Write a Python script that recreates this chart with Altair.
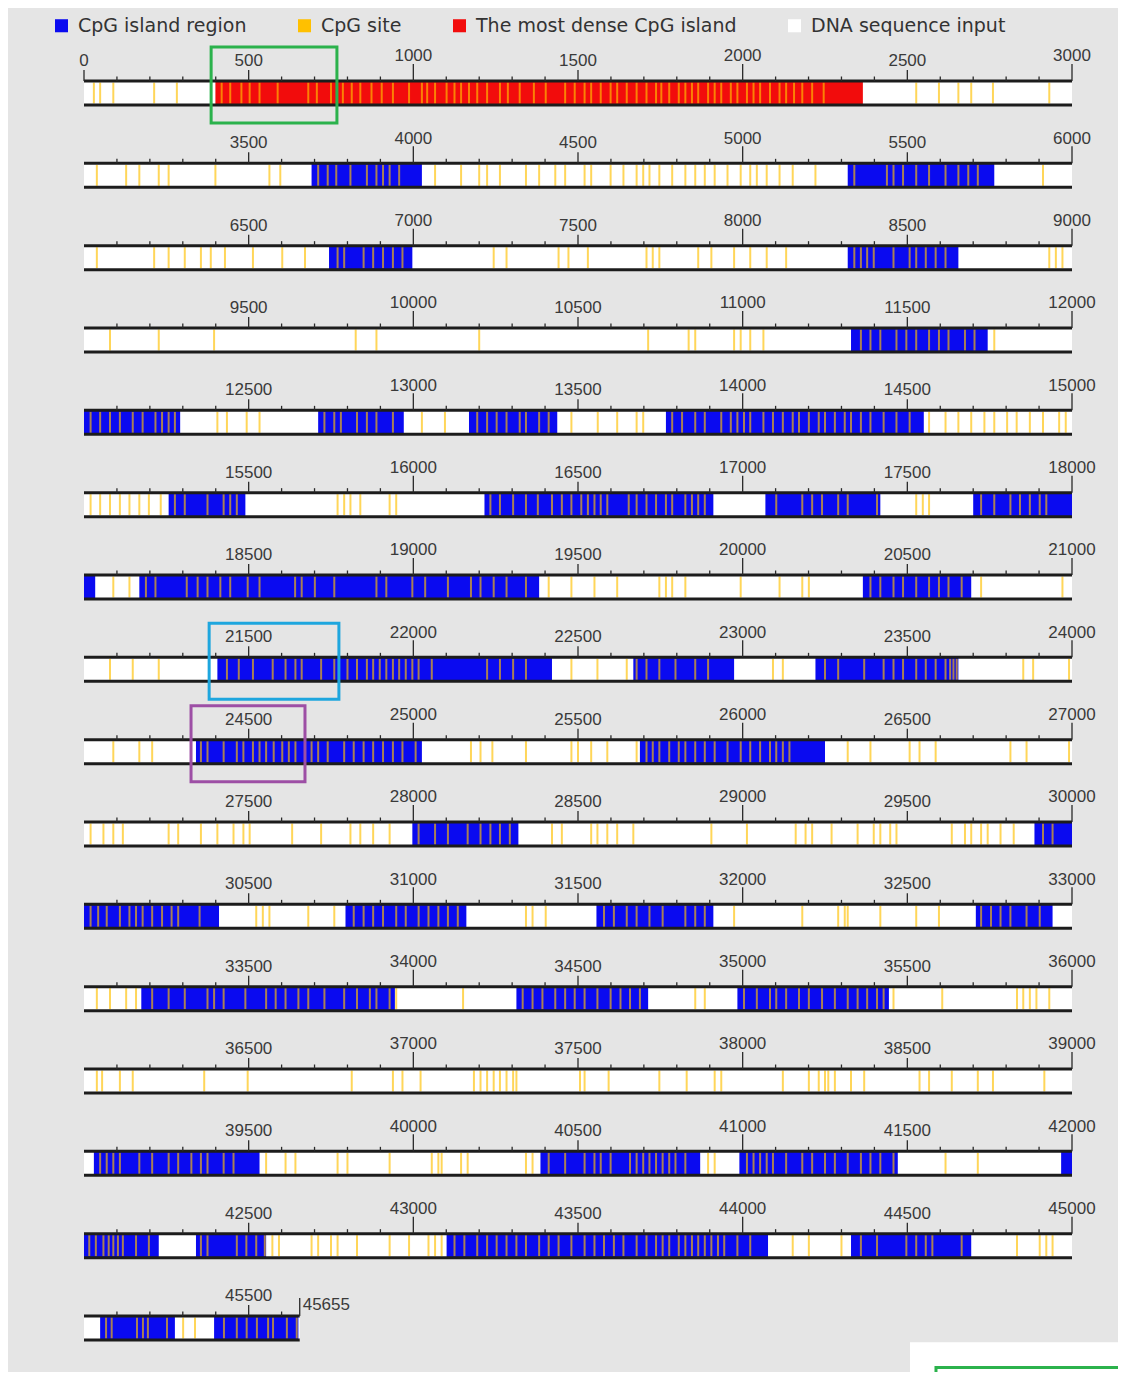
import altair as alt
import pandas as pd

TOTAL_BP = 45655
ROW_BP = 3000
N_ROWS = 16

LEGEND_LABELS = ["CpG island region", "CpG site", "The most dense CpG island", "DNA sequence input"]
LEGEND_COLORS = ["#0a0af0", "#ffc000", "#f20c0c", "#ffffff"]

DENSE_START = [399]
DENSE_END = [2365]

ISLAND_START = [3691, 5319, 6744, 8319, 11329, 12000, 12711, 13169, 13767, 15257, 16216, 17069,
                17700, 18168, 20365, 21405, 22668, 23221, 24340, 25688, 27997, 29886, 30794,
                31556, 32708, 33174, 34313, 34984, 39030, 40386, 40990, 41967, 42340, 43101,
                44329, 45049, 45395]
ISLAND_END = [4026, 5764, 6997, 8655, 11744, 12292, 12971, 13437, 14550, 15490, 16911, 17418,
              18034, 19382, 20694, 22421, 22974, 23655, 25026, 26250, 28319, 30410, 31161,
              31911, 32941, 33944, 34713, 35444, 39533, 40871, 41471, 42227, 42553, 44077,
              44694, 45276, 45651]

# CpG sites, offset (bp) inside each 3000 bp row
SITES_R00 = [30, 49, 89, 213, 282, 418, 444, 478, 503, 533, 588, 681, 707, 750, 786, 813, 839, 873,
             904, 938, 987, 1026, 1042, 1066, 1101, 1125, 1145, 1169, 1194, 1224, 1263, 1287, 1323,
             1366, 1402, 1461, 1490, 1520, 1540, 1569, 1599, 1619, 1648, 1678, 1708, 1737, 1753,
             1777, 1806, 1826, 1846, 1865, 1895, 1915, 1935, 1964, 1984, 2013, 2033, 2053, 2083,
             2112, 2132, 2156, 2181, 2211, 2246, 2527, 2596, 2655, 2694, 2760, 2931]
SITES_R01 = [39, 128, 168, 227, 257, 399, 563, 596, 711, 740, 766, 809, 859, 888, 908, 928, 957,
             1066, 1145, 1200, 1224, 1263, 1342, 1382, 1431, 1461, 1520, 1540, 1599, 1638, 1678,
             1698, 1717, 1747, 1786, 1826, 1856, 1885, 1915, 1954, 1994, 2023, 2043, 2073, 2112,
             2152, 2221, 2339, 2438, 2458, 2487, 2527, 2566, 2616, 2655, 2685, 2714, 2912]
SITES_R02 = [39, 213, 257, 306, 355, 385, 428, 513, 602, 671, 770, 790, 849, 878, 908, 938, 967,
             1244, 1283, 1441, 1471, 1530, 1708, 1727, 1747, 1865, 1905, 1974, 2023, 2073, 2132,
             2339, 2359, 2378, 2398, 2458, 2507, 2527, 2556, 2586, 2616, 2931, 2951, 2971]
SITES_R03 = [79, 227, 395, 825, 888, 1200, 1713, 1836, 1856, 1974, 1994, 2023, 2063, 2359, 2388,
             2418, 2467, 2497, 2527, 2566, 2596, 2625, 2675, 2704, 2764]
SITES_R04 = [20, 49, 79, 109, 148, 178, 217, 237, 257, 276, 405, 434, 494, 533, 730, 760, 780, 829,
             859, 888, 938, 1026, 1096, 1194, 1224, 1253, 1283, 1323, 1342, 1382, 1411, 1480, 1560,
             1619, 1678, 1698, 1786, 1816, 1856, 1885, 1935, 1964, 1984, 2004, 2023, 2063, 2092,
             2122, 2152, 2171, 2201, 2231, 2250, 2280, 2310, 2329, 2359, 2388, 2428, 2467, 2507,
             2566, 2616, 2655, 2694, 2734, 2764, 2803, 2832, 2872, 2912, 2961, 2981]
SITES_R05 = [20, 49, 79, 109, 138, 168, 197, 233, 276, 306, 375, 424, 444, 464, 770, 790, 809, 839,
             928, 948, 1234, 1263, 1303, 1342, 1378, 1421, 1451, 1480, 1510, 1530, 1550, 1569, 1589,
             1654, 1678, 1708, 1737, 1767, 1786, 1826, 1846, 1865, 1885, 2102, 2181, 2211, 2241,
             2290, 2319, 2408, 2527, 2547, 2566, 2724, 2764, 2813, 2842, 2872, 2902, 2922]
SITES_R06 = [89, 138, 188, 217, 312, 345, 375, 414, 444, 497, 533, 641, 661, 701, 760, 888, 918,
             997, 1036, 1105, 1175, 1204, 1244, 1283, 1342, 1411, 1480, 1550, 1619, 1747, 1767,
             1786, 1826, 1994, 2112, 2181, 2201, 2388, 2418, 2458, 2487, 2527, 2566, 2596, 2625,
             2665, 2724, 2971]
SITES_R07 = [79, 148, 227, 434, 470, 513, 573, 612, 642, 661, 720, 760, 800, 829, 859, 878, 898, 918,
             938, 957, 977, 997, 1016, 1056, 1224, 1263, 1303, 1342, 1480, 1559, 1648, 1678, 1708,
             1747, 1796, 1856, 1895, 2092, 2122, 2250, 2290, 2369, 2428, 2458, 2487, 2527, 2556,
             2586, 2616, 2630, 2640, 2650, 2852, 2882, 2991]
SITES_R08 = [89, 168, 207, 355, 375, 424, 464, 484, 513, 533, 553, 576, 602, 622, 642, 691, 711, 740,
             790, 819, 849, 878, 908, 938, 967, 1007, 1175, 1204, 1240, 1342, 1480, 1500, 1540,
             1589, 1678, 1708, 1727, 1747, 1777, 1806, 1826, 1856, 1885, 1915, 1954, 1994, 2023,
             2053, 2083, 2102, 2122, 2142, 2319, 2388, 2507, 2537, 2586, 2813, 2862, 2991]
SITES_R09 = [20, 59, 89, 118, 257, 286, 355, 405, 454, 484, 503, 632, 720, 809, 839, 878, 928, 1016,
             1066, 1105, 1165, 1204, 1234, 1263, 1293, 1421, 1451, 1540, 1559, 1589, 1619, 1668,
             1905, 2013, 2161, 2191, 2211, 2270, 2349, 2398, 2418, 2448, 2467, 2635, 2675, 2694,
             2724, 2744, 2783, 2823, 2912, 2941]
SITES_R10 = [20, 43, 69, 109, 138, 158, 178, 207, 237, 266, 286, 351, 523, 543, 563, 681, 760, 819,
             849, 878, 908, 948, 977, 1016, 1046, 1076, 1105, 1135, 1342, 1362, 1402, 1579, 1609,
             1648, 1678, 1717, 1757, 1826, 1856, 1885, 1974, 2181, 2290, 2310, 2319, 2418, 2527,
             2596, 2724, 2754, 2783, 2813, 2862, 2902]
SITES_R11 = [39, 79, 128, 158, 207, 257, 306, 375, 395, 424, 490, 553, 582, 612, 651, 681, 730, 790,
             829, 868, 888, 928, 948, 1151, 1332, 1362, 1392, 1431, 1461, 1490, 1520, 1559, 1599,
             1629, 1658, 1688, 1856, 1885, 2004, 2043, 2083, 2102, 2132, 2171, 2201, 2241, 2280,
             2319, 2349, 2378, 2408, 2428, 2458, 2606, 2833, 2852, 2872, 2892, 2931]
SITES_R12 = [39, 55, 109, 148, 365, 497, 813, 938, 967, 1022, 1184, 1204, 1224, 1244, 1263, 1283,
             1303, 1313, 1506, 1520, 1593, 1747, 1830, 1915, 1935, 2122, 2201, 2231, 2250, 2260,
             2280, 2329, 2369, 2537, 2566, 2635, 2714, 2760, 2916]
SITES_R13 = [49, 69, 89, 109, 168, 207, 257, 286, 326, 355, 375, 424, 454, 553, 612, 642, 770, 800,
             928, 1056, 1076, 1086, 1145, 1165, 1342, 1362, 1411, 1461, 1520, 1550, 1569, 1599,
             1658, 1678, 1698, 1717, 1737, 1757, 1777, 1796, 1826, 1895, 1915, 2013, 2033, 2053,
             2073, 2092, 2132, 2181, 2211, 2250, 2280, 2319, 2359, 2388, 2418, 2458, 2616, 2714]
SITES_R14 = [16, 36, 59, 75, 89, 103, 118, 158, 197, 355, 375, 464, 493, 523, 549, 572, 592, 691,
             711, 750, 770, 829, 928, 987, 1046, 1066, 1086, 1125, 1155, 1194, 1224, 1253, 1283,
             1313, 1342, 1382, 1411, 1441, 1480, 1520, 1550, 1579, 1609, 1638, 1678, 1708, 1737,
             1757, 1777, 1806, 1826, 1846, 1865, 1885, 1905, 1925, 1944, 1984, 2023, 2152, 2201,
             2300, 2359, 2408, 2497, 2527, 2556, 2576, 2665, 2833, 2902, 2922, 2941]
SITES_R15 = [67, 84, 161, 179, 194, 252, 301, 337, 425, 464, 494, 525, 559, 574, 616, 646]

SITE_ROWS = [SITES_R00, SITES_R01, SITES_R02, SITES_R03, SITES_R04, SITES_R05, SITES_R06,
             SITES_R07, SITES_R08, SITES_R09, SITES_R10, SITES_R11, SITES_R12, SITES_R13,
             SITES_R14, SITES_R15]

# highlighted regions (absolute bp)
BOX_START = [386, 21380, 24325]
BOX_END = [768, 21774, 24671]
BOX_COLORS = ["#2bb24c", "#1ea6de", "#9d4fa5"]

# ---------- layout constants (row units; one row = 82.33 px) ----------
PX = 1 / 82.33
BAR_H = 24 * PX

def split_rows(start, end):
    out = []
    s = start
    while s < end:
        r = s // ROW_BP
        e = min(end, (r + 1) * ROW_BP)
        out.append((r, s - r * ROW_BP, e - r * ROW_BP))
        s = e
    return out

row_len = [min(ROW_BP, TOTAL_BP - r * ROW_BP) for r in range(N_ROWS)]

bars = pd.DataFrame({"row": list(range(N_ROWS)), "x0": 0, "x1": row_len})
bars["y0"] = bars["row"]
bars["y1"] = bars["row"] + BAR_H
bars["kind"] = "DNA sequence input"

isl = []
for s, e in zip(ISLAND_START, ISLAND_END):
    for r, a, b in split_rows(s, e):
        isl.append({"row": r, "x0": a, "x1": b, "kind": "CpG island region"})
for s, e in zip(DENSE_START, DENSE_END):
    for r, a, b in split_rows(s, e):
        isl.append({"row": r, "x0": a, "x1": b, "kind": "The most dense CpG island"})
isl = pd.DataFrame(isl)
isl["y0"] = isl["row"]
isl["y1"] = isl["row"] + BAR_H

sites = pd.DataFrame([{"row": r, "x": p, "kind": "CpG site"}
                      for r, lst in enumerate(SITE_ROWS) for p in lst])
sites["y0"] = sites["row"] + 1.5 * PX
sites["y1"] = sites["row"] + BAR_H - 1.5 * PX

edges = pd.concat([
    pd.DataFrame({"row": bars["row"], "x0": 0, "x1": row_len, "y": bars["row"]}),
    pd.DataFrame({"row": bars["row"], "x0": 0, "x1": row_len, "y": bars["row"] + BAR_H}),
])

ticks = []
labels = []
for p in range(0, TOTAL_BP + 1, 100):
    r = 0 if p == 0 else (p - 1) // ROW_BP
    local = p - r * ROW_BP
    if p % 1000 == 0 and p > 0:
        ticks.append({"x": local, "y0": r - 17 * PX, "y1": r})
        labels.append({"x": local, "y": r - 24.5 * PX, "text": str(p)})
    elif p % 500 == 0:
        ticks.append({"x": local, "y0": r - 11 * PX, "y1": r})
        labels.append({"x": local, "y": r - 20 * PX, "text": str(p)})
    else:
        ticks.append({"x": local, "y0": r - 4.5 * PX, "y1": r})
last_r = N_ROWS - 1
ticks.append({"x": TOTAL_BP - last_r * ROW_BP, "y0": last_r - 18 * PX, "y1": last_r})
ticks = pd.DataFrame(ticks)
labels = pd.DataFrame(labels)
end_label = pd.DataFrame({"x": [TOTAL_BP - last_r * ROW_BP], "y": [last_r - 11 * PX],
                          "text": [str(TOTAL_BP)]})

boxes = []
for s, e, c in zip(BOX_START, BOX_END, BOX_COLORS):
    r = s // ROW_BP
    boxes.append({"x0": s - r * ROW_BP, "x1": e - r * ROW_BP,
                  "y0": r - 34 * PX, "y1": r + 42 * PX, "c": c})
boxes = pd.DataFrame(boxes)

# cropped corner of the neighbouring panel (bottom right)
stub = pd.DataFrame({"x0": [2508], "x1": [3400], "y0": [15.32], "y1": [16.5]})
stub_box = pd.DataFrame({"x0": [2587], "x1": [3400], "y0": [15.625], "y1": [16.5],
                         "c": ["#2bb24c"]})

# ---------- chart ----------
XS = alt.Scale(domain=[0, 3000], range=[76, 1064], nice=False, zero=False)
YS = alt.Scale(domain=[0, 15], range=[73, 1308], nice=False, zero=False)
CS = alt.Scale(domain=LEGEND_LABELS, range=LEGEND_COLORS)
LEG = alt.Legend(title=None, orient="none", legendX=44, legendY=8, direction="horizontal",
                 symbolType="square", symbolSize=170, symbolStrokeWidth=0, symbolOpacity=1,
                 labelFont="DejaVu Sans", labelFontSize=19, labelColor="#333333",
                 labelLimit=400, columnPadding=48, labelOffset=7)

def xy(x0="x0", x1="x1", y0="y0", y1="y1"):
    return dict(x=alt.X(f"{x0}:Q", scale=XS, axis=None), x2=f"{x1}:Q",
                y=alt.Y(f"{y0}:Q", scale=YS, axis=None), y2=f"{y1}:Q")

bar_layer = alt.Chart(bars).mark_rect().encode(
    color=alt.Color("kind:N", scale=CS, legend=LEG), **xy())
isl_layer = alt.Chart(isl).mark_rect().encode(
    color=alt.Color("kind:N", scale=CS, legend=LEG), **xy())
site_layer = alt.Chart(sites).mark_rule(strokeWidth=2, opacity=0.65).encode(
    x=alt.X("x:Q", scale=XS, axis=None),
    y=alt.Y("y0:Q", scale=YS, axis=None), y2="y1:Q",
    color=alt.Color("kind:N", scale=CS, legend=None))
edge_layer = alt.Chart(edges).mark_rule(color="#1c1c1c", strokeWidth=3).encode(
    x=alt.X("x0:Q", scale=XS, axis=None), x2="x1:Q",
    y=alt.Y("y:Q", scale=YS, axis=None))
tick_layer = alt.Chart(ticks).mark_rule(color="#2a2a2a", strokeWidth=1.3).encode(
    x=alt.X("x:Q", scale=XS, axis=None),
    y=alt.Y("y0:Q", scale=YS, axis=None), y2="y1:Q")
label_layer = alt.Chart(labels).mark_text(
    font="Liberation Sans", fontSize=17, color="#3a3a3a", align="center", baseline="middle"
).encode(x=alt.X("x:Q", scale=XS, axis=None), y=alt.Y("y:Q", scale=YS, axis=None), text="text:N")
end_layer = alt.Chart(end_label).mark_text(
    font="Liberation Sans", fontSize=17, color="#3a3a3a", align="left", baseline="middle", dx=3
).encode(x=alt.X("x:Q", scale=XS, axis=None), y=alt.Y("y:Q", scale=YS, axis=None), text="text:N")
box_layer = alt.Chart(boxes).mark_rect(filled=False, strokeWidth=3).encode(
    stroke=alt.Stroke("c:N", scale=None), **xy())
stub_layer = alt.Chart(stub).mark_rect(color="#ffffff", clip=True).encode(**xy())
stub_box_layer = alt.Chart(stub_box).mark_rect(filled=False, strokeWidth=3, clip=True).encode(
    stroke=alt.Stroke("c:N", scale=None), **xy())

chart = alt.layer(
    bar_layer, isl_layer, site_layer, edge_layer, tick_layer, label_layer, end_layer,
    box_layer, stub_layer, stub_box_layer
).properties(
    width=1110, height=1364, background="#e5e5e5", padding=0,
    autosize=alt.AutoSizeParams(type="none")
).configure_view(strokeWidth=0)

chart.save("out.html", embed_options={"renderer": "svg", "actions": False})
